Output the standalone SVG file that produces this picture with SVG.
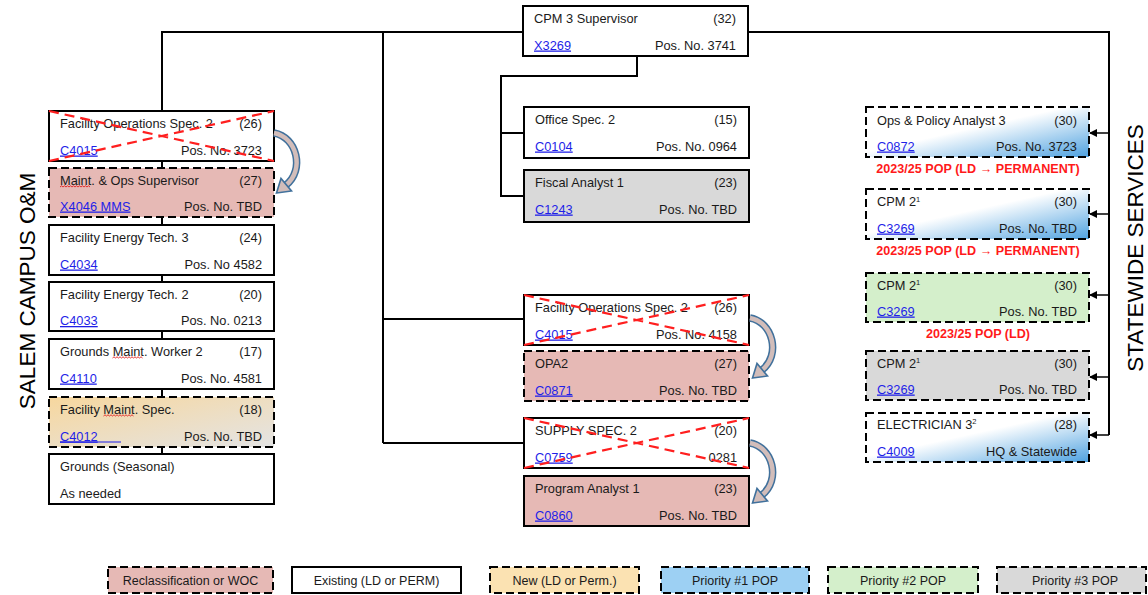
<svg xmlns="http://www.w3.org/2000/svg" xmlns:xlink="http://www.w3.org/1999/xlink" width="1148" height="595" viewBox="0 0 1148 595">
  <style>
    .t{font-family:"Liberation Sans",Arial,sans-serif;font-size:12.8px;fill:#1a1a1a}
    .r{text-anchor:end}
    .m{text-anchor:middle}
    .lg{font-size:12.5px}
    .code{fill:#1f1fe8;text-decoration:underline}
    .box{stroke:#000;stroke-width:2}
    .dash{stroke-dasharray:8 4}
    .white{fill:#fff}
    .pink{fill:#e6b9b5}
    .gray{fill:#d9d9d9}
    .green{fill:#d4efcb}
    .cross{stroke:#ff1f1f;stroke-width:2.2;stroke-dasharray:10 6;fill:none}
    .wire{stroke:#000;stroke-width:2;fill:none}
    .pop{fill:#ff1a1a;font-weight:bold;text-anchor:middle;font-size:12.6px}
    .side{font-family:"Liberation Sans",Arial,sans-serif;font-size:22.5px;fill:#000;text-anchor:middle}
    .squig{stroke:#e02020;stroke-width:0.9;fill:none}
  </style>
  <defs>
    <linearGradient id="gBlue" x1="0" y1="0" x2="1" y2="1">
      <stop offset="0.45" stop-color="#ffffff"/>
      <stop offset="1" stop-color="#4fa2e0"/>
    </linearGradient>
    <linearGradient id="gNew" x1="0" y1="0" x2="1" y2="1">
      <stop offset="0" stop-color="#f7d79e"/>
      <stop offset="1" stop-color="#e4e4e4"/>
    </linearGradient>
    <marker id="ah" markerWidth="8" markerHeight="8" refX="7" refY="4" orient="auto" markerUnits="userSpaceOnUse">
      <path d="M0,0 L8,4 L0,8 z" fill="#000"/>
    </marker>
    <g id="swap">
      <path d="M274,133 C297,137 305,170 286,185" stroke="#41719c" stroke-width="7.5" fill="none"/>
      <path d="M274,133 C297,137 305,170 286,185" stroke="#d2bdba" stroke-width="4.5" fill="none"/>
      <polygon points="276.5,193 291.5,191 281,178.5" fill="#d2bdba" stroke="#41719c" stroke-width="1.6"/>
    </g>
  </defs>

  <rect width="1148" height="595" fill="#fff"/>

  <!-- connectors -->
  <g id="connectors">
    <polyline class="wire" points="523,32 162,32 162,111"/>
    <line class="wire" x1="162" y1="161" x2="162" y2="454"/>
    <line class="wire" x1="383" y1="32" x2="383" y2="443"/>
    <line class="wire" x1="383" y1="319" x2="524" y2="319"/>
    <line class="wire" x1="383" y1="443" x2="524" y2="443"/>
    <polyline class="wire" points="637,56 637,76 501,76 501,196 524,196"/>
    <line class="wire" x1="501" y1="133" x2="524" y2="133"/>
    <polyline class="wire" points="748,32 1109,32 1109,435"/>
    <g stroke="#000" stroke-width="1.5" marker-end="url(#ah)">
      <line x1="1109" y1="133" x2="1090" y2="133"/>
      <line x1="1109" y1="214" x2="1090" y2="214"/>
      <line x1="1109" y1="295" x2="1090" y2="295"/>
      <line x1="1109" y1="377" x2="1090" y2="377"/>
      <line x1="1109" y1="435" x2="1090" y2="435"/>
    </g>
  </g>

  <!-- side titles -->
  <text class="side" transform="translate(35,291) rotate(-90)">SALEM CAMPUS O&amp;M</text>
  <text class="side" transform="translate(1143,248) rotate(-90)">STATEWIDE SERVICES</text>

  <!-- top supervisor -->
  <g id="n-cpm3">
    <rect class="box white" x="523" y="6" width="225" height="50"/>
    <text class="t" x="534" y="22.5">CPM 3 Supervisor</text>
    <text class="t r" x="736" y="22.5">(32)</text>
    <text class="t code" x="534" y="49.5">X3269</text>
    <text class="t r" x="736" y="49.5">Pos. No. 3741</text>
  </g>

  <!-- left column -->
  <g id="n-fos2-a">
    <rect class="box white" x="49" y="111" width="225" height="50"/>
    <text class="t" x="60" y="127.5">Facility Operations Spec. 2</text>
    <text class="t r" x="262" y="127.5">(26)</text>
    <text class="t code" x="60" y="154.5">C4015</text>
    <text class="t r" x="262" y="154.5">Pos. No. 3723</text>
    <path class="cross" d="M49,111 L274,161 M49,161 L274,111"/>
  </g>
  <g id="n-mos">
    <rect class="box pink dash" x="49" y="168" width="225" height="49"/>
    <text class="t" x="60" y="184.5">Maint. &amp; Ops Supervisor</text>
    <text class="t r" x="262" y="184.5">(27)</text>
    <text class="t code" x="60" y="210.5">X4046 MMS</text>
    <text class="t r" x="262" y="210.5">Pos. No. TBD</text>
    <path class="squig" d="M60,187 l1.5,-1.2 l1.5,1.2 l1.5,-1.2 l1.5,1.2 l1.5,-1.2 l1.5,1.2 l1.5,-1.2 l1.5,1.2 l1.5,-1.2 l1.5,1.2 l1.5,-1.2 l1.5,1.2 l1.5,-1.2 l1.5,1.2 l1.5,-1.2 l1.5,1.2 l1.5,-1.2 l1.5,1.2 l1.5,-1.2 l1.5,1.2"/>
  </g>
  <g id="n-fet3">
    <rect class="box white" x="49" y="225" width="225" height="50"/>
    <text class="t" x="60" y="241.5">Facility Energy Tech. 3</text>
    <text class="t r" x="262" y="241.5">(24)</text>
    <text class="t code" x="60" y="268.5">C4034</text>
    <text class="t r" x="262" y="268.5">Pos. No 4582</text>
  </g>
  <g id="n-fet2">
    <rect class="box white" x="49" y="282" width="225" height="49"/>
    <text class="t" x="60" y="298.5">Facility Energy Tech. 2</text>
    <text class="t r" x="262" y="298.5">(20)</text>
    <text class="t code" x="60" y="325">C4033</text>
    <text class="t r" x="262" y="325">Pos. No. 0213</text>
  </g>
  <g id="n-gmw2">
    <rect class="box white" x="49" y="339" width="225" height="50"/>
    <text class="t" x="60" y="355.5">Grounds Maint. Worker 2</text>
    <text class="t r" x="262" y="355.5">(17)</text>
    <text class="t code" x="60" y="382.5">C4110</text>
    <text class="t r" x="262" y="382.5">Pos. No. 4581</text>
    <path class="squig" d="M112.5,358 l1.5,-1.2 l1.5,1.2 l1.5,-1.2 l1.5,1.2 l1.5,-1.2 l1.5,1.2 l1.5,-1.2 l1.5,1.2 l1.5,-1.2 l1.5,1.2 l1.5,-1.2 l1.5,1.2 l1.5,-1.2 l1.5,1.2 l1.5,-1.2 l1.5,1.2 l1.5,-1.2 l1.5,1.2 l1.5,-1.2 l1.5,1.2"/>
  </g>
  <g id="n-fms">
    <rect class="box dash" fill="url(#gNew)" x="49" y="397" width="225" height="50"/>
    <text class="t" x="60" y="413.5">Facility Maint. Spec.</text>
    <text class="t r" x="262" y="413.5">(18)</text>
    <text class="t code" x="60" y="440.5">C4012</text>
    <line x1="60" y1="442" x2="121" y2="442" stroke="#1f1fe8" stroke-width="1"/>
    <text class="t r" x="262" y="440.5">Pos. No. TBD</text>
    <path class="squig" d="M103.5,416 l1.5,-1.2 l1.5,1.2 l1.5,-1.2 l1.5,1.2 l1.5,-1.2 l1.5,1.2 l1.5,-1.2 l1.5,1.2 l1.5,-1.2 l1.5,1.2 l1.5,-1.2 l1.5,1.2 l1.5,-1.2 l1.5,1.2 l1.5,-1.2 l1.5,1.2 l1.5,-1.2 l1.5,1.2 l1.5,-1.2 l1.5,1.2"/>
  </g>
  <g id="n-grounds">
    <rect class="box white" x="49" y="454" width="225" height="50"/>
    <text class="t" x="60" y="470.5">Grounds (Seasonal)</text>
    <text class="t" x="60" y="497.5">As needed</text>
  </g>

  <!-- centre column -->
  <g id="n-os2">
    <rect class="box white" x="524" y="107" width="225" height="51"/>
    <text class="t" x="535" y="123.5">Office Spec. 2</text>
    <text class="t r" x="737" y="123.5">(15)</text>
    <text class="t code" x="535" y="150.5">C0104</text>
    <text class="t r" x="737" y="150.5">Pos. No. 0964</text>
  </g>
  <g id="n-fa1">
    <rect class="box gray" x="524" y="170" width="225" height="52"/>
    <text class="t" x="535" y="186.5">Fiscal Analyst 1</text>
    <text class="t r" x="737" y="186.5">(23)</text>
    <text class="t code" x="535" y="213.5">C1243</text>
    <text class="t r" x="737" y="213.5">Pos. No. TBD</text>
  </g>
  <g id="n-fos2-b">
    <rect class="box white" x="524" y="295" width="225" height="50"/>
    <text class="t" x="535" y="311.5">Facility Operations Spec. 2</text>
    <text class="t r" x="737" y="311.5">(26)</text>
    <text class="t code" x="535" y="338.5">C4015</text>
    <text class="t r" x="737" y="338.5">Pos. No. 4158</text>
    <path class="cross" d="M524,295 L749,345 M524,345 L749,295"/>
  </g>
  <g id="n-opa2">
    <rect class="box pink dash" x="524" y="351" width="225" height="50"/>
    <text class="t" x="535" y="367.5">OPA2</text>
    <text class="t r" x="737" y="367.5">(27)</text>
    <text class="t code" x="535" y="394.5">C0871</text>
    <text class="t r" x="737" y="394.5">Pos. No. TBD</text>
  </g>
  <g id="n-ss2">
    <rect class="box white" x="524" y="418" width="225" height="50"/>
    <text class="t" x="535" y="434.5">SUPPLY SPEC. 2</text>
    <text class="t r" x="737" y="434.5">(20)</text>
    <text class="t code" x="535" y="461.5">C0759</text>
    <text class="t r" x="737" y="461.5">0281</text>
    <path class="cross" d="M524,418 L749,468 M524,468 L749,418"/>
  </g>
  <g id="n-pa1">
    <rect class="box pink" x="524" y="476" width="225" height="50"/>
    <text class="t" x="535" y="492.5">Program Analyst 1</text>
    <text class="t r" x="737" y="492.5">(23)</text>
    <text class="t code" x="535" y="519.5">C0860</text>
    <text class="t r" x="737" y="519.5">Pos. No. TBD</text>
  </g>

  <!-- reclassification arrows -->
  <g id="swap-arrows">
    <use xlink:href="#swap" href="#swap"/>
    <use xlink:href="#swap" href="#swap" transform="translate(476,185)"/>
    <use xlink:href="#swap" href="#swap" transform="translate(476,310)"/>
  </g>

  <!-- right column -->
  <g id="n-opa3">
    <rect class="box dash" fill="url(#gBlue)" x="866" y="107" width="223" height="50"/>
    <text class="t" x="877" y="124.5">Ops &amp; Policy Analyst 3</text>
    <text class="t r" x="1077" y="124.5">(30)</text>
    <text class="t code" x="877" y="150.5">C0872</text>
    <text class="t r" x="1077" y="150.5">Pos. No. 3723</text>
    <text class="t pop" x="978" y="172.5">2023/25 POP (LD → PERMANENT)</text>
  </g>
  <g id="n-cpm2-a">
    <rect class="box dash" fill="url(#gBlue)" x="866" y="189" width="223" height="50"/>
    <text class="t" x="877" y="206">CPM 2<tspan font-size="7.5" dy="-4.5">1</tspan></text>
    <text class="t r" x="1077" y="206">(30)</text>
    <text class="t code" x="877" y="232.5">C3269</text>
    <text class="t r" x="1077" y="232.5">Pos. No. TBD</text>
    <text class="t pop" x="978" y="254.5">2023/25 POP (LD → PERMANENT)</text>
  </g>
  <g id="n-cpm2-b">
    <rect class="box green dash" x="866" y="273" width="223" height="49"/>
    <text class="t" x="877" y="289.5">CPM 2<tspan font-size="7.5" dy="-4.5">1</tspan></text>
    <text class="t r" x="1077" y="289.5">(30)</text>
    <text class="t code" x="877" y="315.5">C3269</text>
    <text class="t r" x="1077" y="315.5">Pos. No. TBD</text>
    <text class="t pop" x="978" y="337.5">2023/25 POP (LD)</text>
  </g>
  <g id="n-cpm2-c">
    <rect class="box gray dash" x="866" y="351" width="223" height="49"/>
    <text class="t" x="877" y="367.5">CPM 2<tspan font-size="7.5" dy="-4.5">1</tspan></text>
    <text class="t r" x="1077" y="367.5">(30)</text>
    <text class="t code" x="877" y="393.5">C3269</text>
    <text class="t r" x="1077" y="393.5">Pos. No. TBD</text>
  </g>
  <g id="n-elec3">
    <rect class="box dash" fill="url(#gBlue)" x="866" y="413" width="223" height="49"/>
    <text class="t" x="877" y="428.5">ELECTRICIAN 3<tspan font-size="7.5" dy="-4.5">2</tspan></text>
    <text class="t r" x="1077" y="428.5">(28)</text>
    <text class="t code" x="877" y="455.5">C4009</text>
    <text class="t r" x="1077" y="455.5">HQ &amp; Statewide</text>
  </g>

  <!-- legend -->
  <g id="legend">
    <rect class="box pink dash" x="108" y="567" width="165" height="26"/>
    <text class="t lg m" x="190.5" y="584.5">Reclassification or WOC</text>
    <rect class="box white" x="292" y="567" width="169" height="26"/>
    <text class="t lg m" x="376.5" y="584.5">Existing (LD or PERM)</text>
    <rect class="box dash" fill="#fbe2b2" x="490" y="567" width="149" height="26"/>
    <text class="t lg m" x="564.5" y="584.5">New (LD or Perm.)</text>
    <rect class="box dash" fill="#9dd0f3" x="661" y="567" width="148" height="26"/>
    <text class="t lg m" x="735" y="584.5">Priority #1 POP</text>
    <rect class="box green dash" x="828" y="567" width="150" height="26"/>
    <text class="t lg m" x="903" y="584.5">Priority #2 POP</text>
    <rect class="box gray dash" x="997" y="567" width="149" height="26"/>
    <text class="t lg m" x="1075" y="584.5">Priority #3 POP</text>
  </g>
</svg>
